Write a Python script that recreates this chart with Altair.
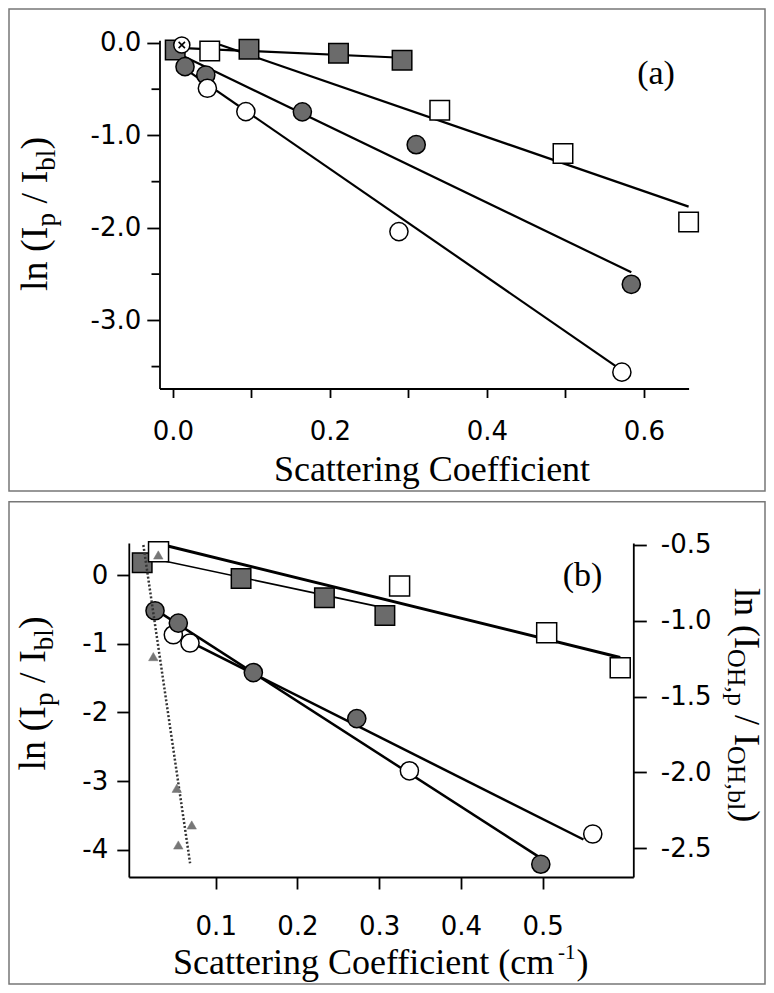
import altair as alt
import pandas as pd

# ---------------- Panel (a) data ----------------
a_fsq_x = [0.003, 0.097, 0.211, 0.292]          # filled squares
a_fsq_y = [-0.076, -0.068, -0.111, -0.187]
a_fsq_fit_x = [0.0, 0.292]
a_fsq_fit_y = [-0.05, -0.16]

a_osq_x = [0.047, 0.340, 0.497, 0.657]          # open squares
a_osq_y = [-0.086, -0.728, -1.196, -1.935]
a_osq_fit_x = [0.06, 0.657]
a_osq_fit_y = [-0.02, -1.77]

a_fci_x = [0.0155, 0.042, 0.165, 0.310, 0.584]  # filled circles
a_fci_y = [-0.256, -0.346, -0.745, -1.100, -2.610]
a_fci_fit_x = [0.015, 0.584]
a_fci_fit_y = [-0.15, -2.48]

a_oci_x = [0.044, 0.093, 0.288, 0.572]          # open circles
a_oci_y = [-0.49, -0.742, -2.04, -3.56]
a_oci_fit_x = [0.0155, 0.572]
a_oci_fit_y = [-0.28, -3.54]

a_ref_x = [0.0114]                              # circled cross
a_ref_y = [-0.022]

a_x_ticks = [0.0, 0.1, 0.2, 0.3, 0.4, 0.5, 0.6]
a_y_major = [0.0, -1.0, -2.0, -3.0]
a_y_minor = [-0.5, -1.5, -2.5, -3.5]

# ---------------- Panel (b) data ----------------
b_osq_x = [0.030, 0.325, 0.505, 0.595]          # open squares
b_osq_y = [0.34, -0.16, -0.84, -1.35]
b_osq_fit_x = [0.035, 0.595]
b_osq_fit_y = [0.44, -1.20]

b_fsq_x = [0.010, 0.131, 0.233, 0.307]          # filled squares
b_fsq_y = [0.18, -0.05, -0.33, -0.59]
b_fsq_fit_x = [0.011, 0.315]
b_fsq_fit_y = [0.27, -0.50]

b_fci_x = [0.0257, 0.0542, 0.146, 0.2726, 0.4978]   # filled circles
b_fci_y = [-0.52, -0.70, -1.42, -2.09, -4.21]
b_fci_fit_x = [0.0257, 0.495]
b_fci_fit_y = [-0.50, -4.10]

b_oci_x = [0.0481, 0.0685, 0.337, 0.5614]      # open circles
b_oci_y = [-0.87, -0.99, -2.85, -3.77]
b_oci_fit_x = [0.048, 0.55]
b_oci_fit_y = [-0.85, -3.85]

# triangles (right axis, ln(I_OH,p / I_OH,bl))
b_tri_x = [0.0297, 0.0236, 0.0523, 0.0706, 0.0542]
b_tri_y = [-0.566, -1.236, -2.104, -2.346, -2.478]
b_tri_fit_x = [0.0114, 0.0686]
b_tri_fit_y = [-0.50, -2.598]

b_x_ticks = [0.1, 0.2, 0.3, 0.4, 0.5]
b_yl_ticks = [0, -1, -2, -3, -4]
b_yr_ticks = [-0.5, -1.0, -1.5, -2.0, -2.5]

SERIF = "Liberation Serif"
SANS = "DejaVu Sans"
GRAY = "#6b6b6b"
NBSP = "\u00a0"
W, H = 758, 977


def df(x, y):
    return pd.DataFrame({"x": x, "y": y})


ONE = pd.DataFrame({"k": [0]})


def lbl(fmt):
    return "replace(format(datum.value, '%s'), '\u2212', '-')" % fmt


def txt(text, x, y, size, angle=0, align="left", font=SERIF):
    return alt.Chart(ONE).mark_text(
        text=text, font=font, fontSize=size, angle=angle, align=align,
        baseline="alphabetic", color="black"
    ).encode(x=alt.value(x), y=alt.value(y))


def frame(x1, x2, y1, y2):
    return alt.Chart(ONE).mark_rect(
        fillOpacity=0, stroke="#777777", strokeWidth=1.5
    ).encode(x=alt.value(x1), x2=alt.value(x2), y=alt.value(y1), y2=alt.value(y2))


def pts(d, X, Y, shape, fill, size, stroke="black", sw=1.5):
    return alt.Chart(d).mark_point(
        shape=shape, filled=True, fill=fill, stroke=stroke, strokeWidth=sw,
        size=size, opacity=1, fillOpacity=1
    ).encode(x=X, y=Y)


def line(d, X, Y, width=2.2, dash=None, color="black"):
    kw = dict(color=color, strokeWidth=width)
    if dash is not None:
        kw["strokeDash"] = dash
    return alt.Chart(d).mark_line(**kw).encode(x=X, y=Y)


F, FS = 38, 27

# ---------------- Panel (a) ----------------
Xa = alt.X("x:Q", scale=alt.Scale(domain=[-0.017, 0.657], range=[151.5, 680.6], nice=False, zero=False),
           axis=alt.Axis(orient="bottom", offset=380.5 - H, values=a_x_ticks, tickSize=9, labelPadding=21,
                         labelExpr="round(datum.value*10) % 2 == 0 ? " + lbl(".1f") + " : ''",
                         title=None))
Ya = alt.Y("y:Q", scale=alt.Scale(domain=[-3.737, 0.03], range=[380.5, 32.2], nice=False, zero=False),
           axis=alt.Axis(orient="left", offset=-151.5, values=a_y_major, tickSize=12.7, labelPadding=6,
                         labelExpr=lbl(".1f"), title=None))

minor_a = alt.Chart(pd.DataFrame({"y": a_y_minor})).mark_rule(
    color="black", strokeWidth=1.8).encode(y=Ya, x=alt.value(143.5), x2=alt.value(151.5))

a_title_y = [
    txt("ln" + NBSP + "(I", 39, 283, F, angle=270),
    txt("p", 47, 218.6, FS, angle=270),
    txt("/" + NBSP + "I", 39, 195.4, F, angle=270),
    txt("bl", 47, 162.7, FS, angle=270),
    txt(")", 39, 141.4, F, angle=270),
]

panel_a = alt.layer(
    frame(1, 757, 1, 483),
    minor_a,
    line(df(a_fsq_fit_x, a_fsq_fit_y), Xa, Ya),
    line(df(a_osq_fit_x, a_osq_fit_y), Xa, Ya),
    line(df(a_fci_fit_x, a_fci_fit_y), Xa, Ya),
    line(df(a_oci_fit_x, a_oci_fit_y), Xa, Ya),
    pts(df(a_fsq_x, a_fsq_y), Xa, Ya, "square", GRAY, 380),
    pts(df(a_osq_x, a_osq_y), Xa, Ya, "square", "white", 380),
    pts(df(a_fci_x, a_fci_y), Xa, Ya, "circle", GRAY, 330),
    pts(df(a_oci_x, a_oci_y), Xa, Ya, "circle", "white", 330),
    pts(df(a_ref_x, a_ref_y), Xa, Ya, "circle", "white", 260),
    alt.Chart(df(a_ref_x, a_ref_y)).mark_point(
        shape="M-1,-1L1,1M-1,1L1,-1", filled=False, stroke="black", strokeWidth=1.6,
        size=40, opacity=1
    ).encode(x=Xa, y=Ya),
    txt("Scattering Coefficient", 424, 473, 36, align="center"),
    txt("(a)", 648, 75.5, 34, align="center"),
    *a_title_y,
)

# ---------------- Panel (b) ----------------
Xb = alt.X("x:Q", scale=alt.Scale(domain=[-0.0064, 0.611], range=[120.8, 625.3], nice=False, zero=False),
           axis=alt.Axis(orient="bottom", offset=869 - H, values=b_x_ticks, tickSize=12, labelPadding=24,
                         labelExpr=lbl(".1f"), title=None))
Xb_noaxis = alt.X("x:Q", scale=alt.Scale(domain=[-0.0064, 0.611], range=[120.8, 625.3], nice=False, zero=False),
                  axis=None)
Ybl = alt.Y("y:Q", scale=alt.Scale(domain=[-4.396, 0.466], range=[869, 535], nice=False, zero=False),
            axis=alt.Axis(orient="left", offset=-120.8, values=b_yl_ticks, tickSize=12, labelPadding=9,
                          labelExpr=lbl("d"), title=None))
Ybr = alt.Y("y:Q", scale=alt.Scale(domain=[-2.689, -0.487], range=[869, 535], nice=False, zero=False),
            axis=alt.Axis(orient="right", offset=625.3 - W, values=b_yr_ticks, tickSize=13, labelPadding=14,
                          labelExpr=lbl(".1f"), title=None))

b_title_left = [
    txt("ln" + NBSP + "(I", 37, 762.5, F, angle=270),
    txt("p", 45, 698.1, FS, angle=270),
    txt("/" + NBSP + "I", 37, 674.9, F, angle=270),
    txt("bl", 45, 642.2, FS, angle=270),
    txt(")", 37, 620.9, F, angle=270),
]
FR, FRS = 36, 26
b_title_right = [
    txt("ln" + NBSP + "(I", 727, 580, FR, angle=90),
    txt("OH,p", 720, 641, FRS, angle=90),
    txt("/" + NBSP + "I", 727, 707, FR, angle=90),
    txt("OH,bl", 720, 738, FRS, angle=90),
    txt(")", 727, 802.3, FR, angle=90),
]
b_title_x = [
    txt("Scattering Coefficient (cm", 165, 965.5, 36),
    txt("-1", 550, 951, 21),
    txt(")", 568.5, 965.5, 36),
]

left_b = alt.layer(
    frame(1, 757, 493.7, 976),
    line(df(b_fsq_fit_x, b_fsq_fit_y), Xb, Ybl, width=1.6),
    line(df(b_osq_fit_x, b_osq_fit_y), Xb, Ybl, width=3.0),
    line(df(b_oci_fit_x, b_oci_fit_y), Xb, Ybl, width=2.5),
    line(df(b_fci_fit_x, b_fci_fit_y), Xb, Ybl, width=2.5),
    pts(df(b_fsq_x, b_fsq_y), Xb, Ybl, "square", GRAY, 380),
    pts(df(b_osq_x, b_osq_y), Xb, Ybl, "square", "white", 400),
    pts(df(b_oci_x, b_oci_y), Xb, Ybl, "circle", "white", 330),
    pts(df(b_fci_x, b_fci_y), Xb, Ybl, "circle", GRAY, 330),
    txt("(b)", 574.5, 578, 34, align="center"),
    *b_title_left, *b_title_right, *b_title_x,
)
right_b = alt.layer(
    line(df(b_tri_fit_x, b_tri_fit_y), Xb_noaxis, Ybr, width=2.5, dash=[2, 2], color="#333333"),
    pts(df(b_tri_x, b_tri_y), Xb_noaxis, Ybr, "triangle-up", "#777777", 90, stroke="#777777", sw=0.5),
)

chart = alt.layer(panel_a, left_b, right_b).resolve_scale(
    x="independent", y="independent"
).properties(
    width=W, height=H, padding=0, autosize=alt.AutoSizeParams(type="none")
).configure_view(stroke=None).configure_axis(
    grid=False, domainColor="black", domainWidth=1.8, tickColor="black", tickWidth=1.8,
    labelFont=SANS, labelFontSize=26, labelColor="black"
)

chart.save("out.html", embed_options={"renderer": "svg", "actions": False})
